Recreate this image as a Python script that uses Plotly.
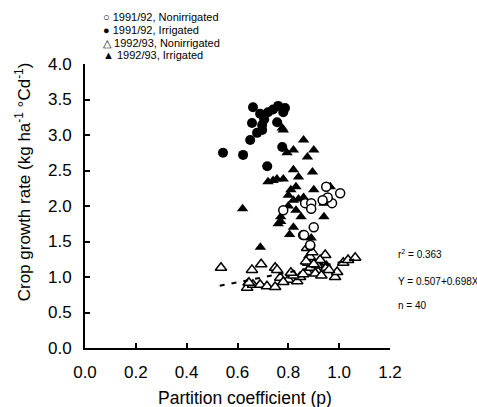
import plotly.graph_objects as go

# ---- data ----
# 1991/92, Nonirrigated (open circles)
p_91_non = [0.949, 1.004, 0.972, 0.955, 0.866, 0.890, 0.890, 0.780, 0.900, 0.858, 0.886, 0.935, 0.862, 0.886]
g_91_non = [2.27, 2.18, 2.04, 2.12, 2.04, 2.04, 1.96, 1.94, 1.70, 1.59, 1.44, 2.08, 1.59, 1.45]

# 1991/92, Irrigated (filled circles)
p_91_irr = [0.661, 0.689, 0.720, 0.760, 0.787, 0.780, 0.657, 0.697, 0.756, 0.697, 0.677, 0.650,
            0.543, 0.622, 0.717, 0.776, 0.705, 0.740]
g_91_irr = [3.39, 3.30, 3.32, 3.41, 3.38, 3.32, 3.17, 3.14, 3.18, 3.07, 3.03, 2.93,
            2.75, 2.72, 2.56, 2.83, 3.22, 3.36]

# 1992/93, Nonirrigated (open triangles)
p_92_non = [0.535, 0.657, 0.693, 0.748, 0.756, 0.638, 0.661, 0.689, 0.716, 0.748, 0.768, 0.800,
            0.835, 0.846, 0.874, 0.886, 0.878, 0.886, 0.874, 0.894, 0.913, 0.917, 0.945, 0.949,
            0.984, 0.992, 1.016, 1.035, 1.063, 0.906, 0.858, 0.925, 0.645, 0.820, 0.870, 0.900,
            0.930, 0.960, 0.780, 0.810]
g_92_non = [1.13, 1.10, 1.18, 1.13, 1.10, 0.85, 0.89, 0.89, 0.87, 0.86, 0.99, 0.96,
            0.94, 1.00, 1.07, 1.13, 1.20, 1.28, 1.41, 1.35, 1.17, 1.07, 1.31, 1.13,
            1.00, 1.07, 1.20, 1.24, 1.27, 1.05, 1.04, 1.24, 0.92, 1.02, 1.22, 1.18,
            1.02, 1.10, 0.93, 1.06]

# 1992/93, Irrigated (filled triangles)
p_92_irr = [0.780, 0.860, 0.820, 0.795, 0.900, 0.875, 0.720, 0.755, 0.780, 0.820, 0.840, 0.895,
            0.810, 0.830, 0.900, 0.820, 0.840, 0.965, 0.940, 0.800, 0.620, 0.950, 0.940, 0.830,
            0.770, 0.770, 0.820, 0.760, 0.850, 0.690, 0.640, 0.920, 0.950, 0.800, 0.860, 0.740,
            0.776, 0.890, 0.805, 0.880]
g_92_irr = [3.07, 2.93, 2.79, 2.75, 2.79, 2.69, 2.34, 2.38, 2.38, 2.51, 2.41, 2.48,
            2.23, 2.27, 2.23, 2.08, 2.10, 2.27, 2.04, 2.00, 1.96, 2.10, 1.85, 1.94,
            1.85, 1.78, 1.70, 1.75, 1.85, 1.42, 0.92, 1.20, 1.17, 2.15, 2.12, 2.36,
            3.10, 1.55, 1.60, 1.30]

# regression for 1992/93 nonirrigated
reg_intercept = 0.507
reg_slope = 0.698
reg_x = [0.53, 1.07]
reg_y = [reg_intercept + reg_slope * v for v in reg_x]

legend_labels = ["1991/92, Nonirrigated", "1991/92, Irrigated",
                 "1992/93, Nonirrigated", "1992/93, Irrigated"]
legend_glyphs = ["○", "●", "△", "▲"]

x_ticks = [0.0, 0.2, 0.4, 0.6, 0.8, 1.0, 1.2]
y_ticks = [0.0, 0.5, 1.0, 1.5, 2.0, 2.5, 3.0, 3.5, 4.0]

FONT = "Liberation Sans, Arial, Helvetica, sans-serif"

fig = go.Figure()

fig.add_trace(go.Scatter(x=p_92_irr, y=g_92_irr, mode="markers", name=legend_labels[3],
                         marker=dict(symbol="triangle-up", size=10, color="black",
                                     line=dict(width=0))))
fig.add_trace(go.Scatter(x=p_91_irr, y=g_91_irr, mode="markers", name=legend_labels[1],
                         marker=dict(symbol="circle", size=10, color="black",
                                     line=dict(width=0))))
fig.add_trace(go.Scatter(x=p_92_non, y=g_92_non, mode="markers", name=legend_labels[2],
                         marker=dict(symbol="triangle-up", size=10, color="white",
                                     line=dict(width=1.5, color="black"))))
fig.add_trace(go.Scatter(x=p_91_non, y=g_91_non, mode="markers", name=legend_labels[0],
                         marker=dict(symbol="circle", size=9, color="white",
                                     line=dict(width=1.5, color="black"))))
fig.add_trace(go.Scatter(x=reg_x, y=reg_y, mode="lines",
                         line=dict(color="black", width=2, dash="5px,7px"),
                         showlegend=False, hoverinfo="skip"))

# plot-area geometry in pixels (for paper-referenced text)
L, R, T, B = 85, 390, 63.5, 348
W, H = 477, 407


def px(xp):
    return (xp - L) / (R - L)


def py(yp):
    return (B - yp) / (B - T)


legend_rows = [16, 29, 42, 54]
for glyph, label, yy in zip(legend_glyphs, legend_labels, legend_rows):
    fig.add_annotation(xref="paper", yref="paper", x=px(101), y=py(yy),
                       xanchor="left", yanchor="middle", showarrow=False,
                       text=glyph + " " + label,
                       font=dict(family=FONT, size=11, color="black"))

stats = [("r<sup>2</sup> = 0.363", 254), ("Y = 0.507+0.698X", 281), ("n = 40", 305)]
for txt, yy in stats:
    fig.add_annotation(xref="paper", yref="paper", x=px(396), y=py(yy),
                       xanchor="left", yanchor="middle", showarrow=False, text=txt,
                       font=dict(family=FONT, size=10, color="black"))

# axis titles
fig.add_annotation(xref="paper", yref="paper", x=px(23), y=py(182),
                   xanchor="center", yanchor="middle", showarrow=False, textangle=-90,
                   text="Crop growth rate (kg ha<sup>-1</sup> °Cd<sup>-1</sup>)",
                   font=dict(family=FONT, size=17, color="black"))
fig.add_annotation(xref="paper", yref="paper", x=px(245), y=py(398),
                   xanchor="center", yanchor="middle", showarrow=False,
                   text="Partition coefficient (p)",
                   font=dict(family=FONT, size=17.5, color="black"))

fig.update_layout(
    width=W, height=H,
    margin=dict(l=L, r=W - R, t=T, b=H - B, pad=0, autoexpand=False),
    paper_bgcolor="white", plot_bgcolor="white",
    showlegend=False,
    font=dict(family=FONT, color="black"),
)

fig.update_xaxes(range=[0, 1.2], tickvals=x_ticks, ticktext=[f"{v:.1f}" for v in x_ticks],
                 showgrid=False, zeroline=False, showline=True, linecolor="black", linewidth=2,
                 ticks="inside", ticklen=5, tickwidth=1.5, tickcolor="black", automargin=False,
                 tickfont=dict(family=FONT, size=17), ticklabelstandoff=8)
fig.update_yaxes(range=[0, 4], tickvals=y_ticks, ticktext=[f"{v:.1f}" for v in y_ticks],
                 showgrid=False, zeroline=False, showline=True, linecolor="black", linewidth=2,
                 ticks="inside", ticklen=5, tickwidth=1.5, tickcolor="black", automargin=False,
                 tickfont=dict(family=FONT, size=17), ticklabelstandoff=8)

fig.write_html("out.html")
